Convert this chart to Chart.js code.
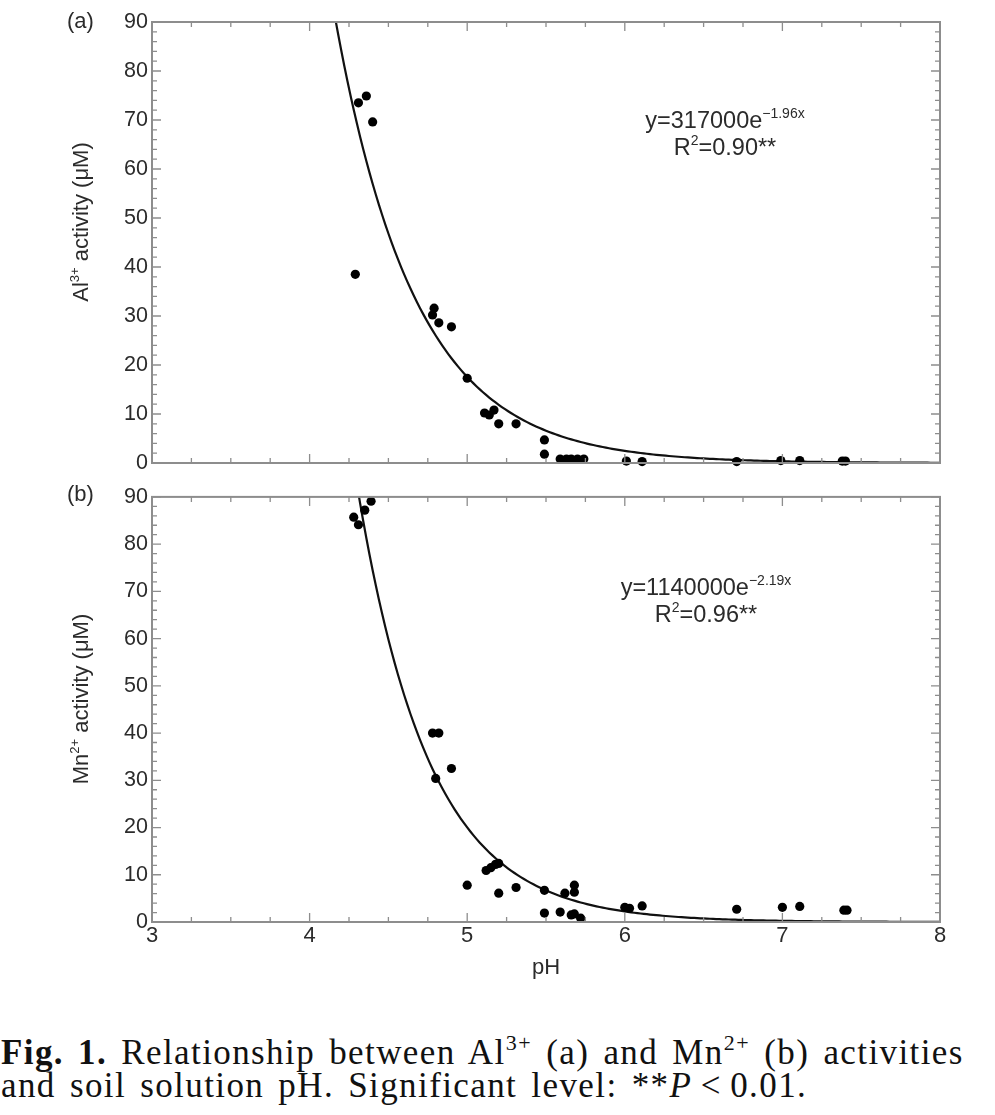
<!DOCTYPE html>
<html><head><meta charset="utf-8">
<script src="https://cdn.jsdelivr.net/npm/chart.js@4"></script>
<style>
body{margin:0;background:#fff;width:995px;height:1115px;position:relative;overflow:hidden}
canvas{position:absolute;left:0}
#ca{top:0}
#cb{top:480px}
#cap{position:absolute;left:1px;top:1036px;font-family:"Liberation Serif","Times New Roman",serif;font-size:35px;line-height:33px;letter-spacing:1.4px;word-spacing:4px;color:#111;white-space:nowrap}
#cap sup{font-size:22px;vertical-align:14px;line-height:0;letter-spacing:1.5px}
</style></head>
<body>
<canvas id="ca" width="995" height="480"></canvas>
<canvas id="cb" width="995" height="520"></canvas>
<div id="cap"><b>Fig. 1.</b> Relationship between Al<sup>3+</sup> (a) and Mn<sup>2+</sup> (b) activities<br>and soil solution pH. Significant level: **<i>P</i>&#8201;&lt;&#8201;0.01.</div>
<script>
// ---- data ----
const alPH  = [4.29, 4.31, 4.36, 4.40, 4.79, 4.78, 4.82, 4.90, 5.00, 5.11, 5.14, 5.17, 5.20, 5.31, 5.49, 5.49, 5.59, 5.63, 5.66, 5.70, 5.74, 6.01, 6.11, 6.71, 6.99, 7.11, 7.38, 7.40];
const alAct = [38.5, 73.5, 74.9, 69.6, 31.6, 30.2, 28.6, 27.8, 17.3, 10.2, 9.8, 10.8, 8.0, 8.0, 4.7, 1.8, 0.8, 0.8, 0.8, 0.8, 0.8, 0.4, 0.3, 0.3, 0.5, 0.5, 0.4, 0.4];
const mnPH  = [4.28, 4.31, 4.35, 4.39, 4.78, 4.82, 4.80, 4.90, 5.00, 5.12, 5.15, 5.18, 5.20, 5.20, 5.31, 5.49, 5.49, 5.59, 5.62, 5.68, 5.68, 5.66, 5.68, 5.72, 6.00, 6.03, 6.11, 6.71, 7.00, 7.11, 7.39, 7.41];
const mnAct = [85.7, 84.1, 87.2, 89.1, 40.0, 40.0, 30.4, 32.5, 7.8, 10.9, 11.5, 12.2, 12.4, 6.1, 7.3, 6.7, 1.9, 2.1, 6.1, 7.8, 6.3, 1.5, 1.7, 0.8, 3.1, 2.9, 3.4, 2.7, 3.1, 3.3, 2.5, 2.5];
// fitted equations printed on the chart: y = a * e^(b x)
const alFit = [317000, -1.96];
const mnFit = [1140000, -2.19];
const yTickLabels = [0, 10, 20, 30, 40, 50, 60, 70, 80, 90];
const xTickLabels = [3, 4, 5, 6, 7, 8];

const TXT = '#2b2b2b', FRAME = '#8d8d8d', FONT = 'Liberation Sans';

function fitCurve(fit) {
  const pts = [];
  for (let x = 4.0; x <= 8.0001; x += 0.02) pts.push({x: x, y: fit[0] * Math.exp(fit[1] * x)});
  return pts;
}
function pairs(xs, ys) { return xs.map((v, i) => ({x: v, y: ys[i]})); }

// draws parts [text, isSup] horizontally centred at (cx, base)
function drawParts(ctx, parts, cx, base, size, supSize, supRise) {
  let w = 0;
  parts.forEach(p => { ctx.font = (p[1] ? supSize : size) + 'px "' + FONT + '"'; w += ctx.measureText(p[0]).width; });
  let x = cx - w / 2;
  parts.forEach(p => {
    ctx.font = (p[1] ? supSize : size) + 'px "' + FONT + '"';
    ctx.fillText(p[0], x, p[1] ? base - supRise : base);
    x += ctx.measureText(p[0]).width;
  });
}

const decor = {
  id: 'decor',
  afterDraw(chart, args, o) {
    const {ctx, chartArea: a, scales: {x, y}} = chart;
    ctx.save();
    // inward ticks on all four sides
    ctx.strokeStyle = FRAME;
    ctx.lineWidth = 1.3;
    ctx.beginPath();
    for (let v = 3; v <= 8.0001; v += 0.25) {
      const px = x.getPixelForValue(v);
      const L = Math.abs(v - Math.round(v)) < 1e-6 ? 9 : 5;
      ctx.moveTo(px, a.bottom); ctx.lineTo(px, a.bottom - L);
      ctx.moveTo(px, a.top); ctx.lineTo(px, a.top + L);
    }
    for (let v = 0; v <= 90.001; v += 2) {
      const py = y.getPixelForValue(v);
      const L = v % 10 === 0 ? 9 : 5;
      ctx.moveTo(a.left, py); ctx.lineTo(a.left + L, py);
      ctx.moveTo(a.right, py); ctx.lineTo(a.right - L, py);
    }
    ctx.stroke();
    ctx.lineWidth = 2;
    ctx.strokeRect(a.left, a.top, a.right - a.left, a.bottom - a.top);
    // texts
    ctx.fillStyle = TXT;
    ctx.textBaseline = 'alphabetic';
    ctx.textAlign = 'left';
    // panel label
    ctx.font = '22px "' + FONT + '"';
    ctx.fillText(o.panel, 67, o.panelY);
    // equation
    drawParts(ctx, o.eq1, o.eqX, o.eqY, 23.5, 14, 10);
    drawParts(ctx, o.eq2, o.eqX, o.eqY + 27, 23.5, 14, 10);
    // y title rotated
    ctx.translate(o.titleX, o.titleY);
    ctx.rotate(-Math.PI / 2);
    drawParts(ctx, o.title, 0, 0, 22, 13, 9);
    ctx.restore();
  }
};

function makeChart(id, xs, ys, fit, showX, xh, padTop, dec) {
  return new Chart(document.getElementById(id), {
    type: 'scatter',
    data: {
      datasets: [
        {data: pairs(xs, ys), pointRadius: 4.6, pointHoverRadius: 4.6, pointBackgroundColor: '#000', pointBorderWidth: 0, showLine: false, clip: false},
        {data: fitCurve(fit), showLine: true, borderColor: '#111', borderWidth: 2.2, pointRadius: 0, tension: 0, fill: false}
      ]
    },
    options: {
      responsive: false, animation: false, devicePixelRatio: 1,
      layout: {padding: {left: 0, right: 55, top: padTop, bottom: 0}},
      plugins: {legend: {display: false}, tooltip: {enabled: false}, decor: dec},
      scales: {
        x: {
          type: 'linear', min: 3, max: 8,
          afterBuildTicks: s => { s.ticks = xTickLabels.map(v => ({value: v})); },
          ticks: {display: showX, font: {family: FONT, size: 22}, color: TXT, padding: 1, maxRotation: 0},
          grid: {display: false, drawTicks: false}, border: {display: false},
          title: {display: showX, text: 'pH', font: {family: FONT, size: 22}, color: TXT, padding: {top: 0, bottom: 19}},
          afterFit: s => { s.height = xh; }
        },
        y: {
          min: 0, max: 90,
          afterBuildTicks: s => { s.ticks = yTickLabels.map(v => ({value: v})); },
          ticks: {font: {family: FONT, size: 21.5}, color: TXT, padding: 4},
          grid: {display: false, drawTicks: false}, border: {display: false},
          afterFit: s => { s.width = 152; }
        }
      }
    },
    plugins: [decor]
  });
}

makeChart('ca', alPH, alAct, alFit, false, 17, 22, {
  panel: '(a)', panelY: 28,
  eq1: [['y=317000e', false], ['\u22121.96x', true]],
  eq2: [['R', false], ['2', true], ['=0.90**', false]],
  eqX: 725, eqY: 128,
  title: [['Al', false], ['3+', true], [' activity (\u03bcM)', false]],
  titleX: 88, titleY: 222
});
makeChart('cb', mnPH, mnAct, mnFit, true, 78, 13, {
  panel: '(b)', panelY: 21,
  eq1: [['y=1140000e', false], ['\u22122.19x', true]],
  eq2: [['R', false], ['2', true], ['=0.96**', false]],
  eqX: 706, eqY: 115,
  title: [['Mn', false], ['2+', true], [' activity (\u03bcM)', false]],
  titleX: 88, titleY: 219
});
</script>
</body></html>
